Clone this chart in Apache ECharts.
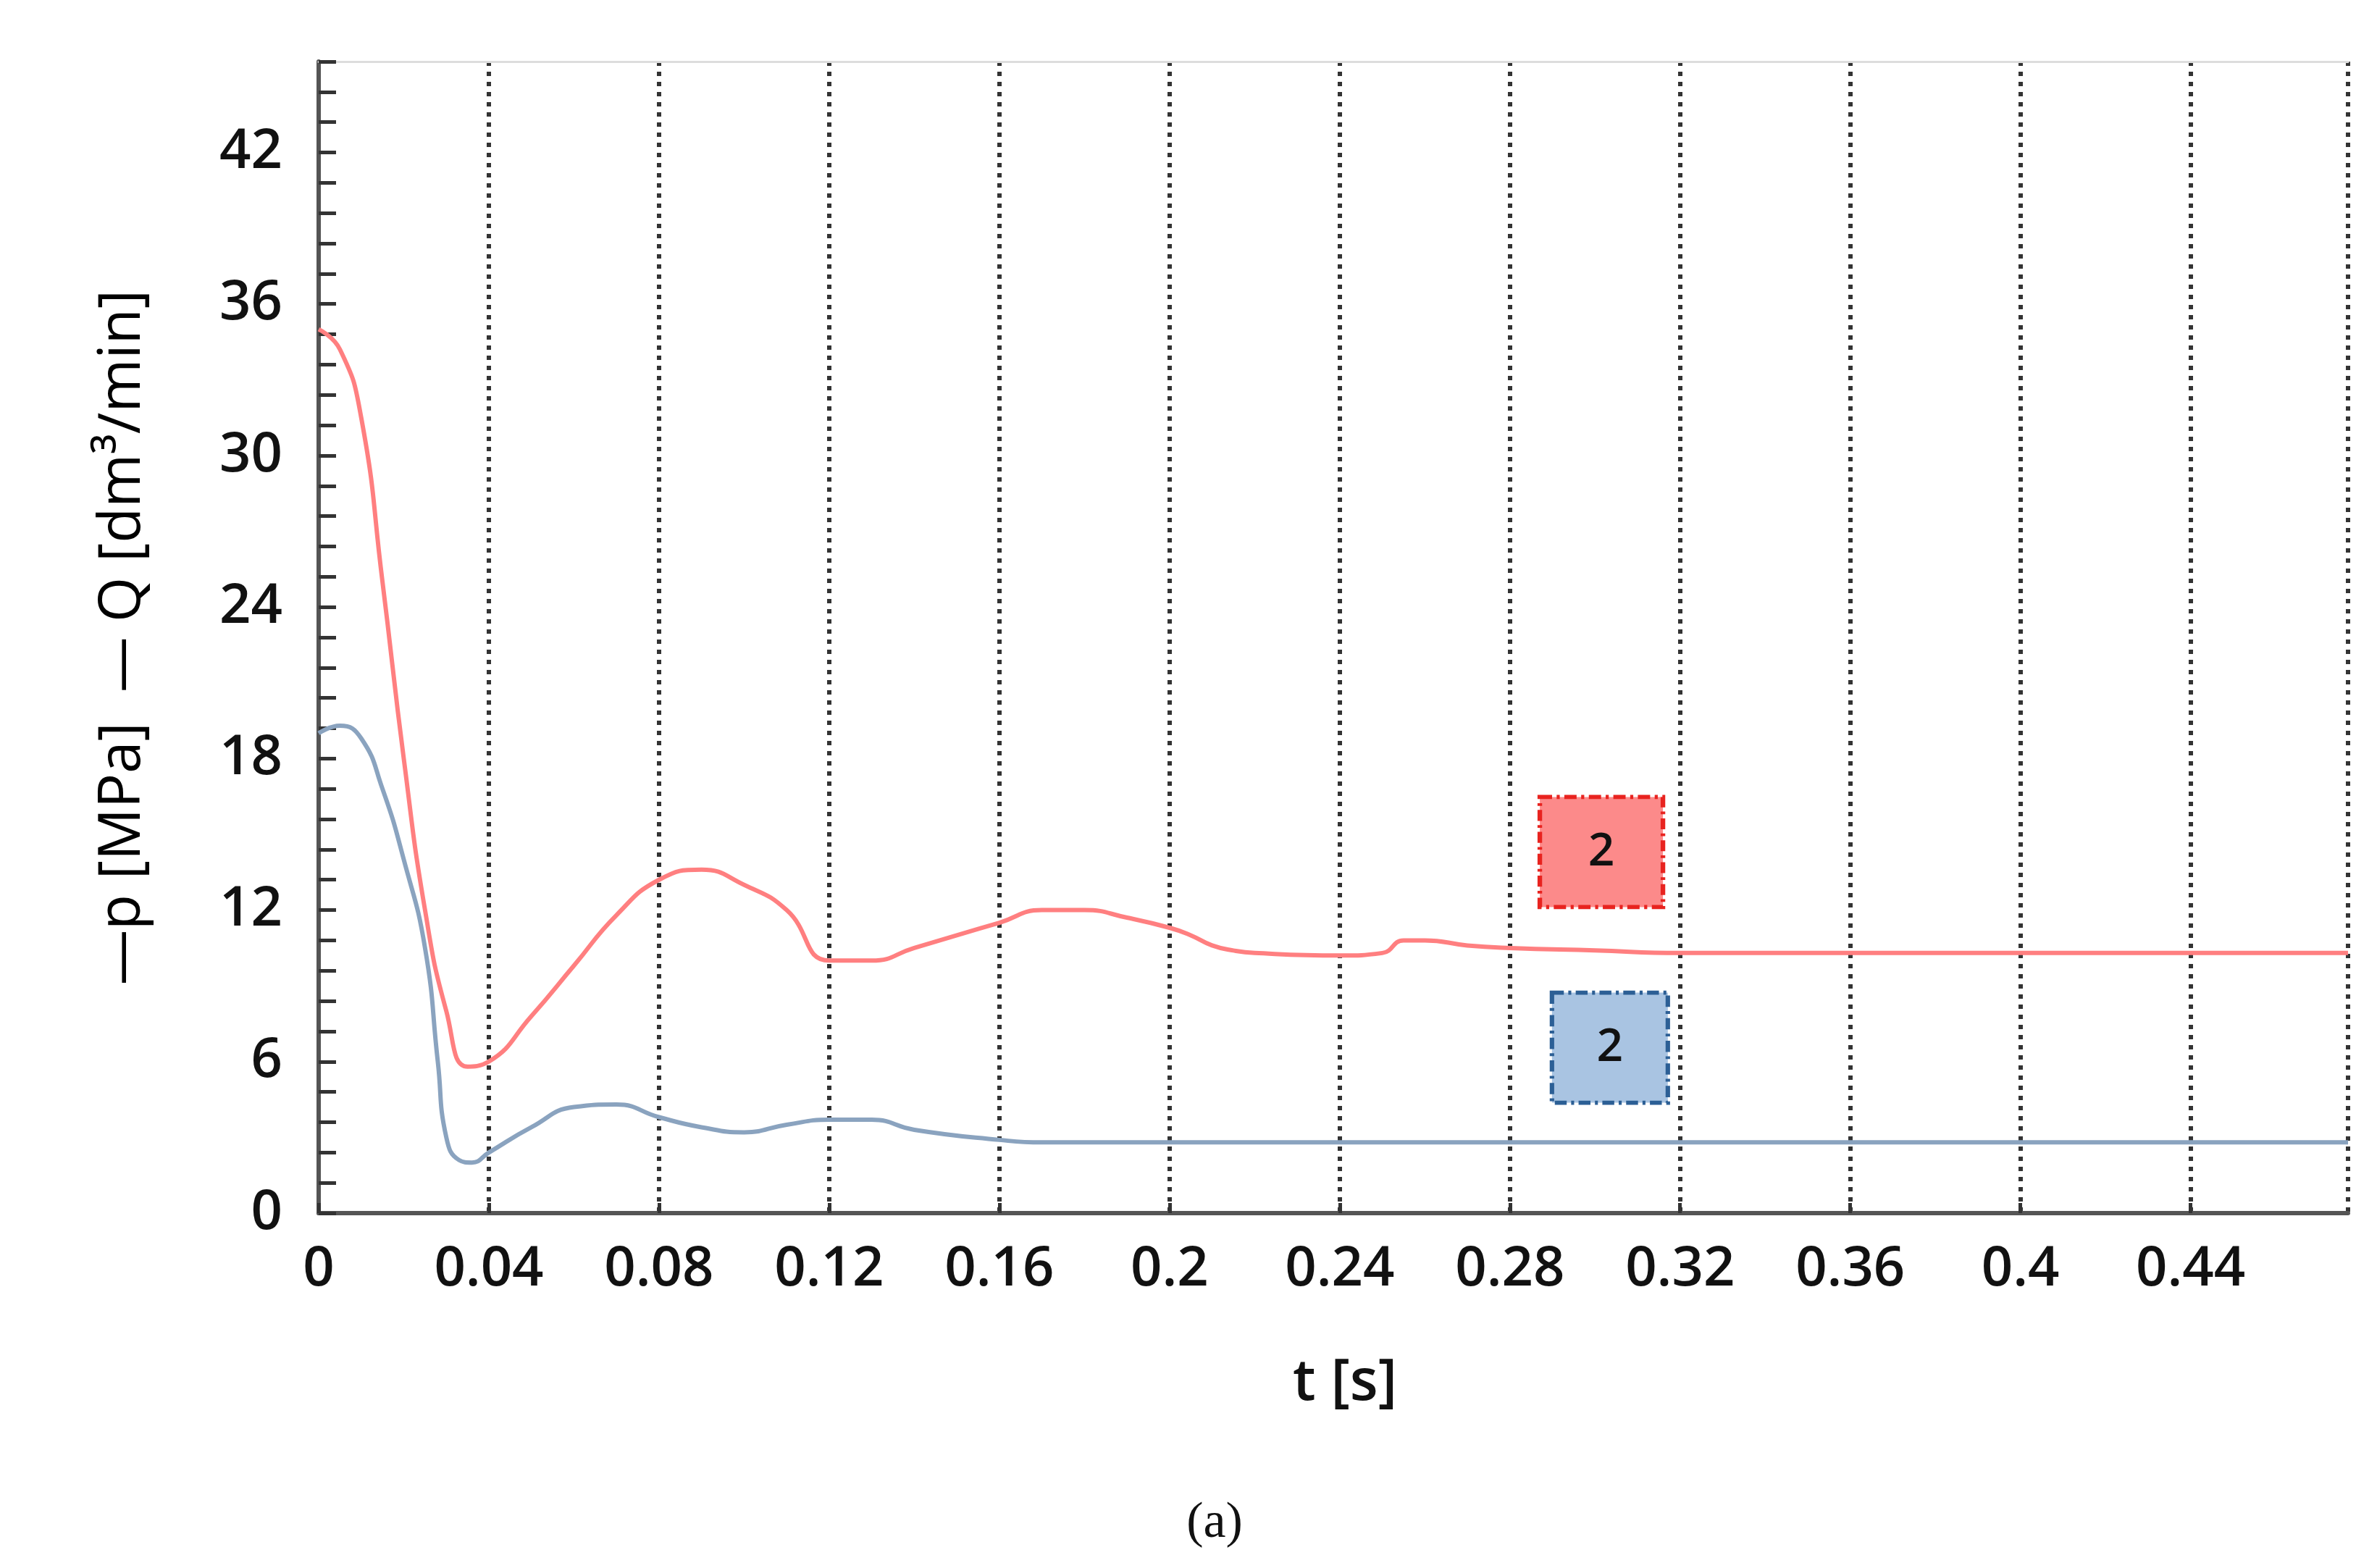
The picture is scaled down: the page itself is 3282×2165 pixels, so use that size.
<!DOCTYPE html>
<html>
<head>
<meta charset="utf-8">
<script src="https://cdn.jsdelivr.net/npm/echarts@6/dist/echarts.min.js"></script>
<style>html,body{margin:0;padding:0;background:#fff}#c{width:3282px;height:2165px}</style>
</head>
<body>
<div id="c"></div>
<script>
// time [s] and values
var tP = [0, 0.005, 0.01, 0.015, 0.02, 0.025, 0.03, 0.035, 0.04, 0.05, 0.06, 0.07, 0.08, 0.09, 0.1, 0.11, 0.12, 0.13, 0.14, 0.15, 0.16, 0.17, 0.18, 0.19, 0.2, 0.205, 0.21, 0.215, 0.22, 0.24, 0.25, 0.255, 0.26, 0.27, 0.28, 0.3, 0.32, 0.477];
var pVal = [35, 34.2, 31.5, 25, 18, 12, 8, 5.8, 6, 7.8, 9.8, 11.8, 13.2, 13.6, 13, 12, 10, 10, 10.5, 11, 11.5, 12, 12, 11.7, 11.3, 11, 10.6, 10.4, 10.3, 10.2, 10.3, 10.8, 10.8, 10.6, 10.5, 10.4, 10.3, 10.3];
var tQ = [0, 0.005, 0.01, 0.015, 0.02, 0.025, 0.028, 0.03, 0.033, 0.036, 0.04, 0.05, 0.06, 0.07, 0.08, 0.09, 0.1, 0.11, 0.12, 0.13, 0.14, 0.16, 0.17, 0.477];
var qVal = [19, 19.3, 18.8, 16.8, 14, 10.5, 6, 3, 2.1, 2, 2.4, 3.4, 4.2, 4.3, 3.8, 3.4, 3.2, 3.5, 3.7, 3.7, 3.3, 2.9, 2.8, 2.8];
var boxes = [{t: 0.3015, v: 14.3, name: '2'}, {t: 0.3035, v: 6.55, name: '2'}];

function pairs(xs, ys) { return xs.map(function (x, i) { return [x, ys[i]]; }); }

var chart = echarts.init(document.getElementById('c'));
var font = 'Open Sans';
var option = {
    backgroundColor: '#fff',
    animation: false,
    grid: {left: 440, right: 40, top: 85, bottom: 490},
    xAxis: [{
        type: 'value', min: 0, max: 0.477, interval: 0.04,
        axisLine: {lineStyle: {color: '#555', width: 6}},
        axisTick: {inside: true, length: 14, lineStyle: {color: '#333', width: 5}},
        axisLabel: {showMaxLabel: false, fontSize: 76, fontWeight: 600, color: '#111', fontFamily: font, margin: 40},
        splitLine: {show: true, lineStyle: {color: '#333', type: [6, 8], width: 6}}
    }, {
        type: 'value', position: 'top', min: 0, max: 0.477,
        axisLine: {show: true, lineStyle: {color: '#ddd', width: 3}},
        axisTick: {show: false}, axisLabel: {show: false}, splitLine: {show: false}
    }],
    yAxis: {
        type: 'value', min: 0, max: 45.6, interval: 6,
        axisLine: {show: true, lineStyle: {color: '#555', width: 6}},
        axisTick: {show: true, inside: true, length: 24, lineStyle: {color: '#333', width: 5}},
        minorTick: {show: true, splitNumber: 5, length: 24, lineStyle: {color: '#333', width: 5}},
        axisLabel: {showMaxLabel: false, fontSize: 76, fontWeight: 600, color: '#111', fontFamily: font, margin: 50},
        splitLine: {show: false}
    },
    series: [{
        type: 'line', data: pairs(tP, pVal), smooth: 0.5, symbol: 'none',
        lineStyle: {color: '#ff7f80', width: 6},
        markPoint: {
            symbol: 'rect', symbolSize: [170, 152],
            itemStyle: {color: '#fc8a8a', borderColor: '#e8231f', borderWidth: 6, borderType: [16, 6, 4, 6]},
            label: {show: true, formatter: '{b}', fontSize: 64, fontWeight: 600, color: '#111', fontFamily: font},
            data: [{name: boxes[0].name, coord: [boxes[0].t, boxes[0].v]}]
        }
    }, {
        type: 'line', data: pairs(tQ, qVal), smooth: 0.5, symbol: 'none',
        lineStyle: {color: '#8aa3bf', width: 6},
        markPoint: {
            symbol: 'rect', symbolSize: [160, 152],
            itemStyle: {color: '#a9c4e2', borderColor: '#2c5f95', borderWidth: 6, borderType: [16, 6, 4, 6]},
            label: {show: true, formatter: '{b}', fontSize: 64, fontWeight: 600, color: '#111', fontFamily: font},
            data: [{name: boxes[1].name, coord: [boxes[1].t, boxes[1].v]}]
        }
    }],
    graphic: [{
        type: 'text', x: 170, y: 880, rotation: Math.PI / 2, originX: 0, originY: 0,
        style: {
            text: '{r|—}{k|p [MPa]  }{b|—}{k| Q [dm³/min]}',
            align: 'center', verticalAlign: 'middle',
            rich: {
                r: {fontSize: 76, color: '#ff7f80', fontFamily: font},
                b: {fontSize: 76, color: '#8aa3bf', fontFamily: font},
                k: {fontSize: 80, color: '#111', fontFamily: font}
            }
        }
    }, {
        type: 'text', x: 1857, y: 1910,
        style: {text: 't [s]', fontSize: 80, fontWeight: 600, fill: '#111', fontFamily: font, align: 'center', verticalAlign: 'middle'}
    }, {
        type: 'text', x: 1677, y: 2104,
        style: {text: '(a)', fontSize: 70, fill: '#111', fontFamily: 'Liberation Serif', align: 'center', verticalAlign: 'middle'}
    }]
};
chart.setOption(option);
</script>
</body>
</html>
